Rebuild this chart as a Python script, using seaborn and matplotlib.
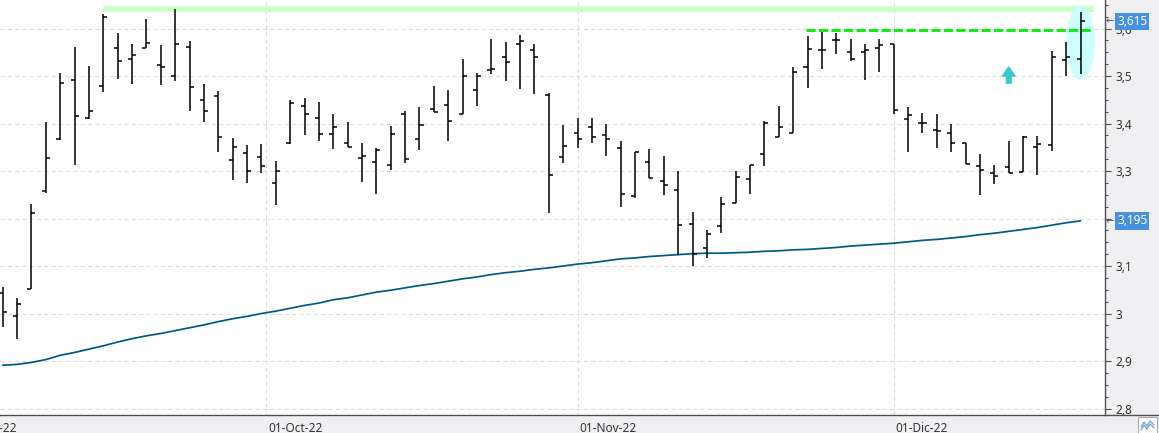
import numpy as np
import pandas as pd
import matplotlib
matplotlib.use("Agg")
import matplotlib.pyplot as plt
import matplotlib.patches as mpatches
import matplotlib.transforms as mtransforms
from matplotlib.lines import Line2D
from matplotlib.ticker import MultipleLocator, FuncFormatter
import seaborn as sns

# sesiones 06-Sep-22 .. 20-Dic-22
dates = pd.bdate_range("2022-09-06", "2022-12-20")

opens = [3.043, 2.995, 3.052, 3.257, 3.367, 3.491, 3.411, 3.480, 3.560, 3.535,
         3.560, 3.523, 3.499, 3.562, 3.449, 3.457, 3.323, 3.337, 3.329, 3.274,
         3.358, 3.436, 3.411, 3.377, 3.358, 3.327, 3.318, 3.312, 3.419, 3.367,
         3.430, 3.438, 3.419, 3.470, 3.512, 3.539, 3.567, 3.554, 3.459, 3.329,
         3.379, 3.392, 3.375, 3.348, 3.248, 3.320, 3.278, 3.261, 3.188, 3.137,
         3.184, 3.232, 3.283, 3.335, 3.371, 3.381, 3.520, 3.554, 3.576, 3.550,
         3.550, 3.560, 3.567, 3.410, 3.402, 3.386, 3.380, 3.360, 3.311, 3.296,
         3.309, 3.298, 3.351, 3.354, 3.533, 3.535]
highs = [3.055, 3.032, 3.230, 3.403, 3.506, 3.561, 3.521, 3.631, 3.590, 3.567,
         3.620, 3.565, 3.641, 3.573, 3.483, 3.468, 3.369, 3.355, 3.357, 3.321,
         3.449, 3.453, 3.445, 3.421, 3.403, 3.358, 3.348, 3.395, 3.426, 3.435,
         3.479, 3.471, 3.536, 3.506, 3.578, 3.571, 3.586, 3.567, 3.464, 3.397,
         3.411, 3.411, 3.399, 3.363, 3.341, 3.346, 3.332, 3.300, 3.214, 3.176,
         3.245, 3.299, 3.313, 3.405, 3.437, 3.519, 3.584, 3.593, 3.591, 3.578,
         3.567, 3.578, 3.567, 3.435, 3.422, 3.420, 3.399, 3.360, 3.336, 3.313,
         3.363, 3.373, 3.374, 3.553, 3.572, 3.635]
lows = [2.972, 2.947, 3.052, 3.253, 3.365, 3.313, 3.409, 3.467, 3.494, 3.484,
        3.560, 3.482, 3.489, 3.427, 3.404, 3.341, 3.282, 3.275, 3.296, 3.229,
        3.356, 3.376, 3.364, 3.347, 3.350, 3.277, 3.252, 3.303, 3.317, 3.344,
        3.424, 3.364, 3.419, 3.437, 3.505, 3.490, 3.473, 3.463, 3.212, 3.317,
        3.348, 3.360, 3.332, 3.225, 3.244, 3.285, 3.250, 3.123, 3.100, 3.117,
        3.170, 3.232, 3.252, 3.311, 3.371, 3.381, 3.475, 3.515, 3.546, 3.531,
        3.492, 3.509, 3.419, 3.339, 3.381, 3.349, 3.339, 3.315, 3.250, 3.273,
        3.296, 3.298, 3.292, 3.343, 3.500, 3.505]
closes = [3.004, 3.021, 3.211, 3.327, 3.485, 3.415, 3.426, 3.624, 3.531, 3.544,
          3.569, 3.518, 3.567, 3.476, 3.426, 3.372, 3.351, 3.299, 3.311, 3.301,
          3.443, 3.421, 3.377, 3.392, 3.350, 3.332, 3.344, 3.377, 3.325, 3.396,
          3.424, 3.405, 3.501, 3.499, 3.514, 3.529, 3.573, 3.539, 3.291, 3.352,
          3.367, 3.372, 3.367, 3.252, 3.341, 3.285, 3.271, 3.186, 3.125, 3.168,
          3.231, 3.287, 3.313, 3.401, 3.392, 3.508, 3.556, 3.554, 3.576, 3.535,
          3.554, 3.565, 3.428, 3.417, 3.402, 3.384, 3.360, 3.315, 3.303, 3.289,
          3.296, 3.371, 3.356, 3.541, 3.541, 3.615]
# media movil
ma = [2.891, 2.893, 2.897, 2.903, 2.912, 2.918, 2.925, 2.932, 2.940, 2.947,
      2.953, 2.958, 2.964, 2.970, 2.976, 2.983, 2.989, 2.994, 3.000, 3.005,
      3.011, 3.017, 3.022, 3.029, 3.033, 3.039, 3.045, 3.049, 3.054, 3.059,
      3.063, 3.068, 3.073, 3.077, 3.082, 3.086, 3.089, 3.093, 3.096, 3.100,
      3.104, 3.107, 3.111, 3.115, 3.117, 3.120, 3.122, 3.124, 3.126, 3.127,
      3.127, 3.128, 3.129, 3.131, 3.132, 3.134, 3.135, 3.137, 3.139, 3.142,
      3.144, 3.146, 3.148, 3.151, 3.154, 3.156, 3.159, 3.162, 3.166, 3.169,
      3.173, 3.177, 3.181, 3.186, 3.191, 3.195]

month_starts = ["2022-09-01", "2022-10-01", "2022-11-01", "2022-12-01"]
month_labels = ["01-Sep-22", "01-Oct-22", "01-Nov-22", "01-Dic-22"]

# niveles dibujados
resist_level = 3.596
resist_from = 55.9
band_from = 7
arrow_bar = 70
arrow_lo, arrow_hi = 3.485, 3.519

idx = np.arange(len(dates))
o, h, l, c = map(np.array, (opens, highs, lows, closes))

# posicion de los meses (interpolada en dias naturales)
all_days = pd.bdate_range("2022-09-01", "2022-12-20")
all_pos = np.arange(len(all_days)) - all_days.get_loc(dates[0])
day_num = (all_days - all_days[0]).days.values
ms = pd.to_datetime(month_starts)
month_pos = np.interp((ms - all_days[0]).days.values, day_num, all_pos)

sns.set_style("white")
plt.rcParams["font.family"] = ["Noto Sans", "DejaVu Sans"]

W, H = 1159, 433
fig = plt.figure(figsize=(W / 100, H / 100), dpi=100)
fig.set_facecolor("#f0f0f2")
ax = fig.add_axes([0, 18.5 / H, 1105 / W, 414.5 / H])
ax.set_facecolor("white")

# barras OHLC
tick_w = 0.28
ax.vlines(idx, l, h, color="black", lw=1.1, zorder=4)
ax.hlines(o, idx - tick_w, idx, color="black", lw=1.1, zorder=4)
ax.hlines(c, idx, idx + tick_w, color="black", lw=1.1, zorder=4)

sns.lineplot(x=idx, y=ma, color="#005a87", lw=1.25, ax=ax, zorder=3)

# banda de maximos
top = h.max()
ax.fill_between([band_from, idx[-1] + 0.9], top - 0.006, top + 0.006,
                color="#ccffcc", lw=0, zorder=1)
# elipse ultima sesion
ax.add_patch(mpatches.Ellipse((idx[-1], (h[-1] + l[-1]) / 2), 2.0,
                              (h[-1] - l[-1]) * 1.2, fc="#ccffff", ec="none",
                              zorder=1.5))
ax.hlines(resist_level, resist_from, idx[-1] + 0.75, color="#00ee00", lw=2,
          linestyles=[(0, (3.3, 1.2))], zorder=2)
ax.annotate("", xy=(arrow_bar, arrow_hi), xytext=(arrow_bar, arrow_lo),
            arrowprops=dict(arrowstyle="simple,head_length=0.65,head_width=0.9,tail_width=0.35",
                            color="#33cccc", shrinkA=0, shrinkB=0), zorder=2)

for s in ["left", "top"]:
    ax.spines[s].set_visible(False)
for s in ["right", "bottom"]:
    ax.spines[s].set_color("#505050")
    ax.spines[s].set_linewidth(1)


def fmt_price(v, p):
    # la etiqueta 3,2 queda tapada por la caja de la media
    if abs(v - 3.2) < 1e-6:
        return ""
    return f"{v:g}".replace(".", ",")


ax.yaxis.tick_right()
ax.yaxis.set_major_locator(MultipleLocator(0.1))
ax.yaxis.set_minor_locator(MultipleLocator(0.025))
ax.yaxis.set_major_formatter(FuncFormatter(fmt_price))
ax.tick_params(axis="y", which="major", length=4.3, width=0.8, color="#505050",
               pad=3.5, labelsize=8.5, labelcolor="#333333", right=True, left=False)
ax.tick_params(axis="y", which="minor", length=2.2, width=0.8, color="#505050",
               right=True, left=False)

ax.set_xticks(month_pos)
ax.set_xticklabels([""] * len(month_pos))
ax.tick_params(axis="x", length=5.8, width=0.8, color="#505050", direction="out")

ax.grid(True, color="#dcdcdc", ls=(0, (4, 3)), lw=0.75)
ax.set_axisbelow(True)

# limites despues de los ticks
ax.set_xlim(-0.19, 76.7)
ax.set_ylim(2.7874, 3.66)

trans = mtransforms.blended_transform_factory(ax.transData, ax.transAxes)
lab_off = mtransforms.ScaledTranslation(2 / 100, -17.2 / 100, fig.dpi_scale_trans)
for p, t in zip(month_pos, month_labels):
    ax.text(p, 0, t, transform=trans + lab_off, ha="left", va="baseline",
            fontsize=8.5, color="#333333", clip_on=False)

# etiquetas de ultimo valor
rtrans = mtransforms.blended_transform_factory(ax.transAxes, ax.transData)
box_off = mtransforms.ScaledTranslation(12 / 100, 0, fig.dpi_scale_trans)
arr_off = mtransforms.ScaledTranslation(5 / 100, 0, fig.dpi_scale_trans)
for v in [c[-1], ma[-1]]:
    ax.text(1.0, v, f"{v:.3f}".replace(".", ","), transform=rtrans + box_off,
            ha="left", va="center", fontsize=8.5, color="white", clip_on=False,
            bbox=dict(boxstyle="square,pad=0.18", fc="#4891e0", ec="none"), zorder=6)
    ax.text(1.0, v, "←", transform=rtrans + arr_off, ha="center", va="center",
            fontsize=7, color="#555555", family=["DejaVu Sans"], clip_on=False)

# linea inferior y boton
fig.add_artist(Line2D([1105 / W, 1], [18.5 / H, 18.5 / H], color="#505050", lw=1))
fig.add_artist(mpatches.Rectangle((1138 / W, 0), 19 / W, 16 / H, transform=fig.transFigure,
                                  fc="white", ec="#a8a8a8", lw=0.8))
zx = np.array([1141, 1144, 1147, 1150, 1154]) / W
fig.add_artist(Line2D(zx, 1 - np.array([427, 422, 426, 421, 425]) / H, color="#7aa8d8", lw=1))
fig.add_artist(Line2D(zx, 1 - np.array([430, 425, 429, 424, 428]) / H, color="#7aa8d8", lw=1))

fig.savefig("out.png", dpi=100, facecolor=fig.get_facecolor())
